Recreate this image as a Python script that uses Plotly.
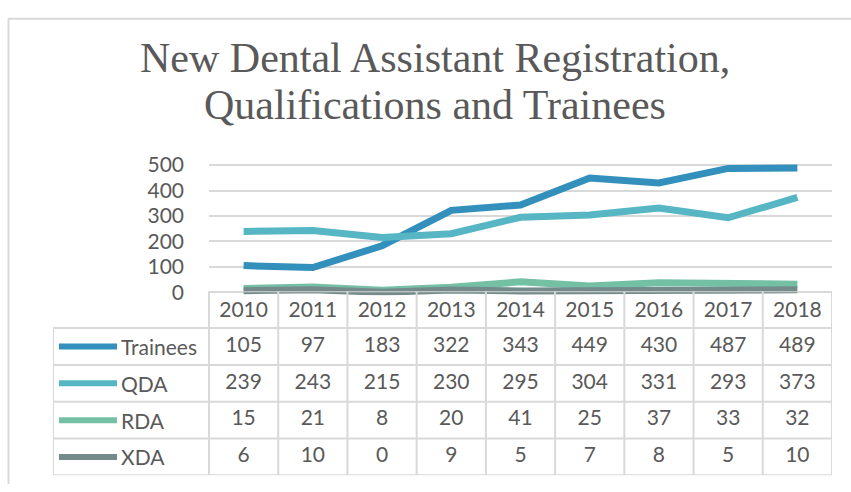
import plotly.graph_objects as go

# chart data
years = ["2010", "2011", "2012", "2013", "2014", "2015", "2016", "2017", "2018"]
series_names = ["Trainees", "QDA", "RDA", "XDA"]
trainees = [105, 97, 183, 322, 343, 449, 430, 487, 489]
qda = [239, 243, 215, 230, 295, 304, 331, 293, 373]
rda = [15, 21, 8, 20, 41, 25, 37, 33, 32]
xda = [6, 10, 0, 9, 5, 7, 8, 5, 10]
y_ticks = [0, 100, 200, 300, 400, 500]
title_lines = ["New Dental Assistant Registration,", "Qualifications and Trainees"]

colors = ["#3390bd", "#56b6c3", "#74c0a5", "#758a8b"]
series_values = [trainees, qda, rda, xda]

W, H = 851, 492
TEXT = "#595959"
GRID = "#d9d9d9"
FONT = "Lato"


def px_x(p):
    return p / W


def px_y(p):
    return (H - p) / H


# plot area pixel geometry
left, right = 209, 832
y0_px, y500_px = 293, 161
pad = 12  # extra data units so thick lines aren't clipped
scale = (y0_px - y500_px) / 500
# table geometry
tab_left, tab_top, tab_bottom = 53, 292, 483
cell_w = (right - left) / len(years)
label_cols = (left - tab_left) / cell_w

fig = go.Figure()

for name, vals, col in zip(series_names, series_values, colors):
    fig.add_trace(go.Scatter(
        x=years, y=vals, name=name, mode="lines",
        line=dict(color=col, width=7),
        xaxis="x", yaxis="y", showlegend=False, hoverinfo="x+y+name",
    ))

# table text: header row + value rows
idx = list(range(len(years)))
fig.add_trace(go.Scatter(
    x=idx, y=[0.55] * len(years), text=years, mode="text",
    textfont=dict(family=FONT, size=21, color=TEXT),
    xaxis="x2", yaxis="y2", showlegend=False, hoverinfo="skip",
))
for r, vals in enumerate(series_values):
    fig.add_trace(go.Scatter(
        x=idx, y=[r + 1.5] * len(years), text=[str(v) for v in vals], mode="text",
        textfont=dict(family=FONT, size=21, color=TEXT),
        xaxis="x2", yaxis="y2", showlegend=False, hoverinfo="skip",
    ))

shapes = []
x_lo = -0.5 - label_cols
n_rows = len(series_names) + 1
gl = dict(color=GRID, width=2)
# horizontal borders
shapes.append(dict(type="line", xref="x2", yref="y2", x0=-0.5, x1=len(years) - 0.5,
                   y0=0, y1=0, line=gl))
for r in range(1, n_rows + 1):
    shapes.append(dict(type="line", xref="x2", yref="y2", x0=x_lo, x1=len(years) - 0.5,
                       y0=r, y1=r, line=gl))
# vertical borders
for c in range(len(years) + 1):
    shapes.append(dict(type="line", xref="x2", yref="y2", x0=c - 0.5, x1=c - 0.5,
                       y0=0, y1=n_rows, line=gl))
shapes.append(dict(type="line", xref="x2", yref="y2", x0=x_lo, x1=x_lo,
                   y0=1, y1=n_rows, line=gl))
# legend keys in the table
key_x0 = x_lo + 6 / cell_w
key_x1 = x_lo + 64 / cell_w
for r, col in enumerate(colors):
    shapes.append(dict(type="line", xref="x2", yref="y2", x0=key_x0, x1=key_x1,
                       y0=r + 1.5, y1=r + 1.5, line=dict(color=col, width=6)))
# outer chart frame (left and top)
shapes.append(dict(type="line", xref="paper", yref="paper", x0=px_x(8.5), x1=px_x(8.5),
                   y0=0, y1=px_y(9), line=dict(color=GRID, width=2)))
shapes.append(dict(type="line", xref="paper", yref="paper", x0=px_x(8), x1=1,
                   y0=px_y(9), y1=px_y(9), line=dict(color=GRID, width=2)))

annotations = []
for r, name in enumerate(series_names):
    annotations.append(dict(
        x=x_lo + 66 / cell_w, y=r + 1.5, xref="x2", yref="y2", text=name,
        xanchor="left", yanchor="middle", showarrow=False,
        font=dict(family=FONT, size=21, color=TEXT),
    ))
for i, (line, ypx) in enumerate(zip(title_lines, [50, 99])):
    annotations.append(dict(
        x=px_x(435), y=px_y(ypx), xref="paper", yref="paper", text=line,
        xanchor="center", yanchor="middle", showarrow=False,
        font=dict(family="Liberation Serif", size=42, color=TEXT),
    ))

fig.update_layout(
    width=W, height=H,
    margin=dict(l=0, r=0, t=0, b=0),
    paper_bgcolor="white", plot_bgcolor="rgba(0,0,0,0)",
    xaxis=dict(
        type="category", categoryorder="array", categoryarray=years,
        range=[-0.5, len(years) - 0.5], domain=[px_x(left), px_x(right)],
        showticklabels=False, showgrid=False, zeroline=False, showline=False,
        anchor="y", fixedrange=True,
    ),
    yaxis=dict(
        range=[-pad, 500 + pad],
        domain=[px_y(y0_px + pad * scale), px_y(y500_px - pad * scale)],
        tickvals=y_ticks, showgrid=True, gridcolor=GRID, gridwidth=1.5,
        zeroline=False, showline=False, ticks="",
        tickfont=dict(family=FONT, size=21, color=TEXT),
        ticklabelstandoff=24, anchor="x", fixedrange=True,
    ),
    xaxis2=dict(
        range=[x_lo, len(years) - 0.5], domain=[px_x(tab_left), px_x(right)],
        visible=False, anchor="y2", fixedrange=True,
    ),
    yaxis2=dict(
        range=[n_rows, 0], domain=[px_y(tab_bottom), px_y(tab_top)],
        visible=False, anchor="x2", fixedrange=True,
    ),
    shapes=shapes,
    annotations=annotations,
)

# drop the browser's default body margin so the chart sits at the page origin
fig.write_html("out.html", config={"displayModeBar": False},
               post_script="document.body.style.margin='0';")
